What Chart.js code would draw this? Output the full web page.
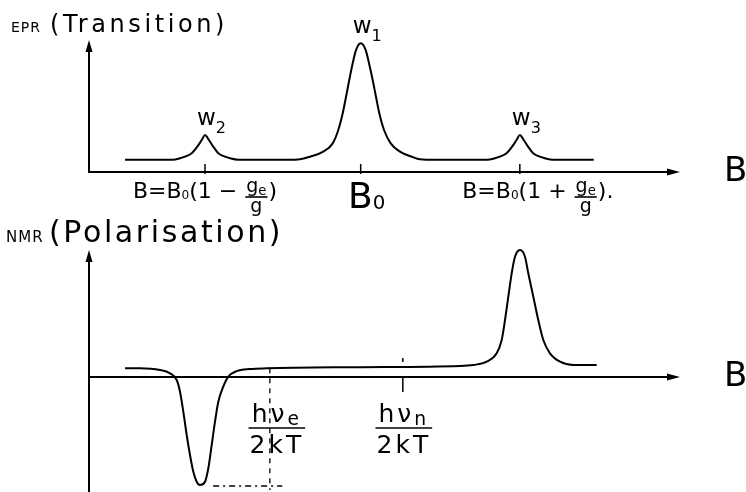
<!DOCTYPE html>
<html>
<head>
<meta charset="utf-8">
<script src="https://cdn.jsdelivr.net/npm/chart.js@4.4.1/dist/chart.umd.min.js"></script>
<style>
  html, body { margin: 0; padding: 0; background: #fff; }
  #wrap { position: relative; width: 746px; height: 492px; overflow: hidden; }
  canvas { position: absolute; left: 0; }
  #eprChart { top: 0; }
  #nmrChart { top: 200px; }
</style>
</head>
<body>
<div id="wrap">
  <canvas id="eprChart" width="746" height="235"></canvas>
  <canvas id="nmrChart" width="746" height="292"></canvas>
</div>
<script>
// magnetic field axis, arbitrary units
const fieldMin = 0;
const fieldMax = 100;

// EPR: transition intensity vs field
const eprField  = [6.1, 14.2, 15.4, 16.24, 17.38, 18.32, 19.07, 19.63, 20.3, 21.03, 21.88, 23.01, 23.86, 25.2,
                   33.5, 35.7, 37.39, 39.64, 41.24, 42.18, 42.93, 43.49, 44.04, 44.62, 45.18, 45.97, 46.82, 47.38, 48.0, 48.56, 49.12, 49.92, 51.05, 52.61, 54.6, 56.01, 58.5,
                   67.4, 68.67, 69.51, 70.65, 71.59, 72.34, 72.9, 73.57, 74.3, 75.15, 76.28, 77.13, 78.5, 85.4];
const eprSignal = [0.92, 0.92, 1.04, 1.16, 1.42, 1.92, 2.42, 2.8, 2.42, 1.92, 1.42, 1.16, 1.04, 0.93,
                   0.92, 0.96, 1.16, 1.54, 2.17, 3.18, 4.45, 5.7, 6.97, 8.24, 9.24, 9.75, 9.24, 8.24, 6.97, 5.7, 4.45, 3.18, 2.17, 1.54, 1.16, 0.96, 0.92,
                   0.92, 1.04, 1.16, 1.42, 1.92, 2.42, 2.8, 2.42, 1.92, 1.42, 1.16, 1.04, 0.93, 0.92];
const eprTitle = ['EPR', '(Transition)'];
const eprLineX = [19.63, 45.97, 72.9];
const eprLinePeak = [2.8, 9.75, 2.8];
const eprLineNames = ['w_2', 'w_1', 'w_3'];
const eprTickLabels = [
  ['B=B_0(1 − ', { num: 'g_e', den: 'g' }, ')'],
  ['B_0'],
  ['B=B_0(1 + ', { num: 'g_e', den: 'g' }, ').']
];

// NMR: nuclear polarisation vs field
const nmrField  = [6.1, 8.63, 12.01, 13.71, 14.84, 15.4, 15.96, 16.53, 17.09, 17.65, 18.22, 18.78, 19.63, 20.19, 20.76, 21.32, 21.88, 22.72, 23.57, 24.99, 27.24, 30.07,
                   45, 62.77, 65.03, 67.29, 68.98, 69.83, 70.39, 70.95, 71.52, 72.08, 72.93, 73.77, 74.33, 75.18, 76.02, 76.87, 78.0, 79.7, 81.95, 85.91];
const nmrSignal = [0.87, 0.87, 0.7, 0.37, -0.3, -1.47, -3.47, -5.8, -7.8, -9.47, -10.47, -10.8, -10.47, -9.13, -6.8, -4.47, -2.47, -0.97, 0.03, 0.59, 0.8, 0.87,
                   0.98, 1.1, 1.2, 1.53, 2.37, 3.7, 5.7, 8.03, 10.37, 12.03, 12.7, 12.03, 10.37, 8.03, 5.7, 3.7, 2.37, 1.53, 1.2, 1.2];
const nmrTitle = ['NMR', '(Polarisation)'];
const nmrTicks = [30.6, 53.1];
const nmrTickLabels = [{ num: 'hν_e', den: '2kT' }, { num: 'hν_n', den: '2kT' }];
const nmrGuideH = { x: [21, 32.7], y: [-10.9, -10.9] };
const nmrGuideV = { x: [30.6, 30.6], y: [0.87, -11.3] };

const FONT = '"DejaVu Sans", sans-serif';
const INK = '#000';

function toPoints(xs, ys) {
  return xs.map((x, i) => ({ x, y: ys[i] }));
}

function parseRuns(str) {
  const runs = [];
  let buf = '';
  for (let i = 0; i < str.length; i++) {
    if (str[i] === '_' && i + 1 < str.length) {
      if (buf) runs.push({ t: buf, sub: false });
      buf = '';
      runs.push({ t: str[i + 1], sub: true });
      i++;
    } else {
      buf += str[i];
    }
  }
  if (buf) runs.push({ t: buf, sub: false });
  return runs;
}

function runsWidth(ctx, str, size, subScale) {
  let w = 0;
  parseRuns(str).forEach(r => {
    ctx.font = `${r.sub ? size * subScale : size}px ${FONT}`;
    w += ctx.measureText(r.t).width;
  });
  return w;
}

function drawRuns(ctx, str, x, y, size, subScale, subDrop) {
  parseRuns(str).forEach(r => {
    ctx.font = `${r.sub ? size * subScale : size}px ${FONT}`;
    ctx.fillText(r.t, x, r.sub ? y + subDrop : y);
    x += ctx.measureText(r.t).width;
  });
  return x;
}

function drawFraction(ctx, frac, cx, numY, barY, denY, size, subScale, subDrop) {
  const wn = runsWidth(ctx, frac.num, size, subScale);
  const wd = runsWidth(ctx, frac.den, size, subScale);
  const w = Math.max(wn, wd);
  drawRuns(ctx, frac.num, cx - wn / 2, numY, size, subScale, subDrop);
  drawRuns(ctx, frac.den, cx - wd / 2, denY, size, subScale, subDrop);
  ctx.lineWidth = 1.6;
  ctx.beginPath();
  ctx.moveTo(cx - w / 2 - 1, barY);
  ctx.lineTo(cx + w / 2 + 1, barY);
  ctx.stroke();
  return w;
}

function drawAxes(chart, yBottom) {
  const { ctx, chartArea } = chart;
  const xs = chart.scales.x, ys = chart.scales.y;
  const x0 = xs.getPixelForValue(fieldMin);
  const x1 = xs.getPixelForValue(fieldMax);
  const y0 = ys.getPixelForValue(0);
  ctx.save();
  ctx.strokeStyle = INK;
  ctx.fillStyle = INK;
  ctx.lineWidth = 2;
  ctx.beginPath();
  ctx.moveTo(x0, y0);
  ctx.lineTo(x1 - 8, y0);
  ctx.moveTo(x0, yBottom);
  ctx.lineTo(x0, chartArea.top + 8);
  ctx.stroke();
  ctx.beginPath();
  ctx.moveTo(x1, y0);
  ctx.lineTo(x1 - 13, y0 - 3.5);
  ctx.lineTo(x1 - 13, y0 + 3.5);
  ctx.closePath();
  ctx.moveTo(x0, chartArea.top);
  ctx.lineTo(x0 - 3.5, chartArea.top + 12);
  ctx.lineTo(x0 + 3.5, chartArea.top + 12);
  ctx.closePath();
  ctx.fill();
  // field label at the arrow
  ctx.font = `34px ${FONT}`;
  ctx.textBaseline = 'alphabetic';
  ctx.fillText('B', 724, y0 + 9);
  ctx.restore();
}

function drawTitle(ctx, title, left, baseline, smallSize, bigLeft, bigSize, spacing) {
  ctx.save();
  ctx.fillStyle = INK;
  ctx.letterSpacing = '1px';
  ctx.font = `${smallSize}px ${FONT}`;
  ctx.fillText(title[0], left, baseline);
  ctx.letterSpacing = spacing + 'px';
  ctx.font = `${bigSize}px ${FONT}`;
  ctx.fillText(title[1], bigLeft, baseline);
  ctx.restore();
}

const eprSketch = {
  id: 'eprSketch',
  beforeDatasetsDraw(chart) {
    drawAxes(chart, chart.scales.y.getPixelForValue(0) + 1);
  },
  afterDatasetsDraw(chart) {
    const { ctx } = chart;
    const xs = chart.scales.x, ys = chart.scales.y;
    const y0 = ys.getPixelForValue(0);
    const shift = [0, 6, 18];
    ctx.save();
    ctx.fillStyle = INK;
    ctx.strokeStyle = INK;
    drawTitle(ctx, eprTitle, 11, 32, 14, 50, 24, 3.6);
    eprLineX.forEach((v, i) => {
      const px = xs.getPixelForValue(v);
      const py = ys.getPixelForValue(eprLinePeak[i]);
      ctx.lineWidth = 1.5;
      ctx.beginPath();
      ctx.moveTo(px, y0 - 8);
      ctx.lineTo(px, y0 + 2);
      ctx.stroke();
      // line name above the peak
      drawRuns(ctx, eprLineNames[i], px - 8, py - 10, 23, 0.7, 8);
      // resonance field under the axis
      const parts = eprTickLabels[i];
      const big = parts.length === 1;
      const size = big ? 36 : 22;
      const base = big ? y0 + 36 : y0 + 26;
      const fs = 19;
      const fracW = p => Math.max(runsWidth(ctx, p.num, fs, 0.7), runsWidth(ctx, p.den, fs, 0.7)) + 4;
      let total = 0;
      parts.forEach(p => {
        total += typeof p === 'string' ? runsWidth(ctx, p, size, 0.55) : fracW(p);
      });
      let x = px - total / 2 + shift[i];
      parts.forEach(p => {
        if (typeof p === 'string') {
          x = drawRuns(ctx, p, x, base, size, 0.55, 1);
        } else {
          const w = fracW(p);
          drawFraction(ctx, p, x + w / 2, base - 6, base - 1, base + 14, fs, 0.7, 3);
          x += w;
        }
      });
    });
    ctx.restore();
  }
};

const nmrSketch = {
  id: 'nmrSketch',
  beforeDatasetsDraw(chart) {
    drawAxes(chart, chart.chartArea.bottom + 2);
  },
  afterDatasetsDraw(chart) {
    const { ctx } = chart;
    const xs = chart.scales.x, ys = chart.scales.y;
    const y0 = ys.getPixelForValue(0);
    ctx.save();
    ctx.fillStyle = INK;
    ctx.strokeStyle = INK;
    drawTitle(ctx, nmrTitle, 6, 42, 15, 49, 30, 2.6);
    ctx.lineWidth = 1.5;
    const pn = xs.getPixelForValue(nmrTicks[1]);
    ctx.beginPath();
    ctx.moveTo(pn, y0 - 1);
    ctx.lineTo(pn, y0 + 15);
    ctx.moveTo(pn, y0 - 19);
    ctx.lineTo(pn, y0 - 15);
    ctx.stroke();
    ctx.letterSpacing = '3px';
    nmrTickLabels.forEach((frac, i) => {
      const px = xs.getPixelForValue(nmrTicks[i]) + (i === 0 ? 7 : 1);
      drawFraction(ctx, frac, px, y0 + 45, y0 + 51, y0 + 76, 25, 0.75, 3);
    });
    ctx.restore();
  }
};

function curve(data, extra) {
  return Object.assign({
    data,
    borderColor: INK,
    borderWidth: 2,
    pointRadius: 0,
    fill: false,
    cubicInterpolationMode: 'monotone',
    clip: false
  }, extra || {});
}

function baseOptions(yMin, yMax, padding) {
  return {
    responsive: false,
    animation: false,
    events: [],
    layout: { padding },
    plugins: { legend: { display: false }, tooltip: { enabled: false }, title: { display: false } },
    scales: {
      x: { type: 'linear', min: fieldMin, max: fieldMax, display: false },
      y: { type: 'linear', min: yMin, max: yMax, display: false }
    }
  };
}

new Chart(document.getElementById('eprChart'), {
  type: 'line',
  data: { datasets: [curve(toPoints(eprField, eprSignal))] },
  options: baseOptions(0, 10, { left: 89, right: 66, top: 40, bottom: 63 }),
  plugins: [eprSketch]
});

new Chart(document.getElementById('nmrChart'), {
  type: 'line',
  data: {
    datasets: [
      curve(toPoints(nmrField, nmrSignal)),
      curve(toPoints(nmrGuideH.x, nmrGuideH.y), { borderWidth: 1.5, borderDash: [6, 4, 2, 4], cubicInterpolationMode: 'default', tension: 0 }),
      curve(toPoints(nmrGuideV.x, nmrGuideV.y), { borderWidth: 1.3, borderDash: [5, 5], cubicInterpolationMode: 'default', tension: 0 })
    ]
  },
  options: baseOptions(-11.3, 12.7, { left: 89, right: 66, top: 50, bottom: 2 }),
  plugins: [nmrSketch]
});
</script>
</body>
</html>
